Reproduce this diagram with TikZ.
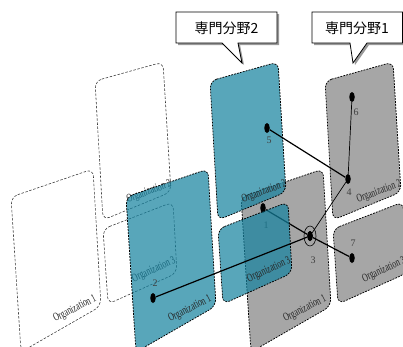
\documentclass[tikz,border=0pt]{standalone}
\usepackage{fontspec}
\newfontfamily\serifnum{Liberation Serif}
\newfontfamily\jpfont{Noto Sans CJK JP}
\usetikzlibrary{shapes.geometric}
\definecolor{panelgrey}{RGB}{166,166,166}
\definecolor{panelblue}{RGB}{20,130,159}
\tikzset{
 panel/.style={rounded corners=7pt, line width=0.75pt, dash pattern=on 1.8pt off 1.2pt},
 ghost/.style={panel, fill=white, draw=black!80, line width=0.55pt, dash pattern=on 2.5pt off 1.6pt},
 greypanel/.style={panel, fill=panelgrey, draw=black},
 bluepanel/.style={panel, fill=panelblue, fill opacity=0.71, draw=black, draw opacity=1},
 orglabel/.style={font=\serifnum\fontsize{11.5}{11.5}\selectfont, text=black!85, inner sep=0, rotate=#1, xscale=0.68},
 dot/.style={ellipse, fill=black, inner sep=0, minimum width=5.5pt, minimum height=10pt},
 numlabel/.style={font=\serifnum\fontsize{10}{10}\selectfont, text=black!75, inner sep=0},
 thickedge/.style={line width=1.2pt},
 thinedge/.style={line width=0.7pt},
 callout/.style={draw=black, line width=0.8pt, fill=white},
 calloutshadow/.style={fill=black!40, draw=none},
 callouttext/.style={font=\jpfont\fontsize{14}{14}\selectfont, inner sep=0}
}
\newcommand\layerpanels[1]{%
  \path[#1] (126,197) -- (208,169) -- (216,306) -- (136,352) -- cycle;
  \path[#1] (210,81) -- (278,62) -- (286,192) -- (218,220) -- cycle;
  \path[#1] (218,229) -- (288,202) -- (292,273) -- (223,304) -- cycle;
}
\newcommand\layerlabels[1]{%
  \node[orglabel=27] (#1orgA) at (190,309) {Organization 1};
  \node[orglabel=20] (#1orgB) at (264,192) {Organization 2};
  \node[orglabel=25] (#1orgC) at (269,270) {Organization 3};
}
\begin{document}
\begin{tikzpicture}[x=1pt,y=-1pt]
\useasboundingbox (0,0) rectangle (403,346);
\fill[white] (0,0) rectangle (403,346);
% third (empty) layer
\begin{scope}[xshift=-115pt]
  \layerpanels{ghost}
  \layerlabels{w}
\end{scope}
% grey layer
\begin{scope}[xshift=115pt]
  \layerpanels{greypanel}
  \layerlabels{g}
\end{scope}
% node 1 and its edge lie under the blue layer
\node[dot] (n1) at (263,208) {};
\node[dot] (n3) at (310,236) {};
\draw[thickedge] (n1) -- (n3);
\node[numlabel] (l1) at (266,225) {1};
% blue layer
\layerpanels{bluepanel}
\layerlabels{b}
% other nodes
\node[dot] (n2) at (153,298) {};
\node[dot] (n4) at (348,179) {};
\node[dot] (n5) at (267,128) {};
\node[dot] (n6) at (352,97) {};
\node[dot] (n7) at (352,258) {};
\node[dot] (n3b) at (310,236) {};
\node[draw, ellipse, minimum width=12pt, minimum height=20pt, line width=0.6pt, inner sep=0] (ring) at (n3) {};
\draw[thickedge] (n5) -- (n4);
\draw[thinedge] (n6) -- (n4);
\draw[thinedge] (n4) -- (n3);
\draw[thickedge] (n3) -- (n7);
\draw[thickedge] (n2) -- (n3);
\node[numlabel] (l2) at (155,283) {2};
\node[numlabel] (l3) at (313,260) {3};
\node[numlabel] (l4) at (349,192) {4};
\node[numlabel] (l5) at (269,140) {5};
\node[numlabel] (l6) at (356,112) {6};
\node[numlabel] (l7) at (353,243) {7};
% callouts
\fill[calloutshadow] (178,14) -- (279,14) -- (279,45) -- (240,45) -- (244,65) -- (224,45) -- (178,45) -- cycle;
\path[callout] (176,12) -- (277,12) -- (277,43) -- (238,43) -- (242,63) -- (222,43) -- (176,43) -- cycle;
\node[callouttext] (c2) at (226.5,28) {専門分野2};
\fill[calloutshadow] (314,14) -- (404,14) -- (404,45) -- (369,45) -- (355,65) -- (352,45) -- (314,45) -- cycle;
\path[callout] (312,12) -- (402.5,12) -- (402.5,43) -- (367,43) -- (353,63) -- (350,43) -- (312,43) -- cycle;
\node[callouttext] (c1) at (357,28) {専門分野1};
\end{tikzpicture}
\end{document}
